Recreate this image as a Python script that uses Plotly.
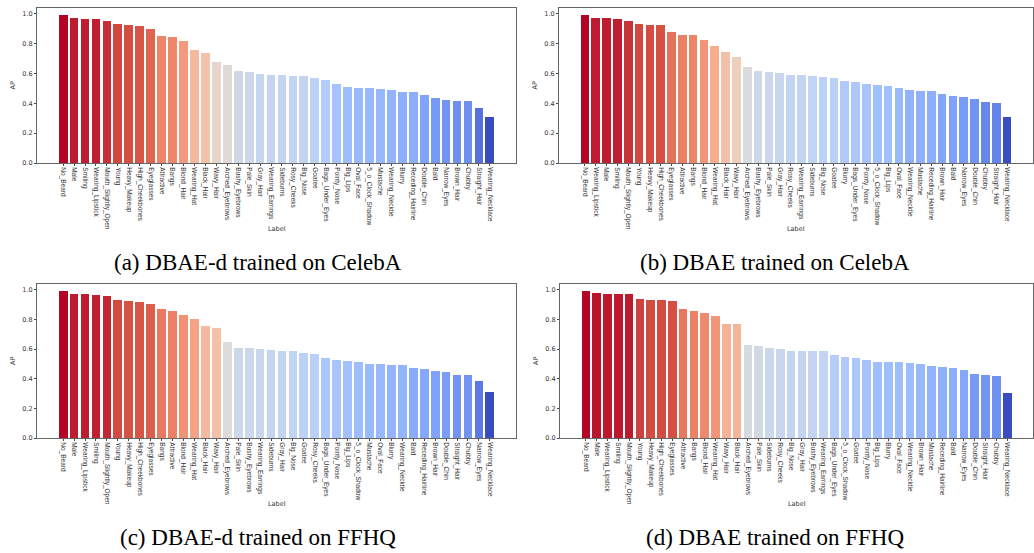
import plotly.graph_objects as go

# ---------------- data ----------------
labels_a = ["No_Beard", "Male", "Smiling", "Wearing_Lipstick", "Mouth_Slightly_Open", "Young", "Heavy_Makeup",
            "High_Cheekbones", "Eyeglasses", "Attractive", "Bangs", "Blond_Hair", "Wearing_Hat", "Black_Hair",
            "Wavy_Hair", "Arched_Eyebrows", "Bushy_Eyebrows", "Pale_Skin", "Gray_Hair", "Wearing_Earrings",
            "Sideburns", "Rosy_Cheeks", "Big_Nose", "Goatee", "Bags_Under_Eyes", "Pointy_Nose", "Big_Lips",
            "Oval_Face", "5_o_Clock_Shadow", "Mustache", "Wearing_Necktie", "Blurry", "Receding_Hairline",
            "Double_Chin", "Bald", "Narrow_Eyes", "Brown_Hair", "Chubby", "Straight_Hair", "Wearing_Necklace"]
values_a = [0.991, 0.971, 0.969, 0.968, 0.953, 0.931, 0.926, 0.919, 0.897, 0.852, 0.848, 0.817, 0.756, 0.740,
            0.676, 0.658, 0.617, 0.611, 0.597, 0.591, 0.588, 0.586, 0.582, 0.570, 0.555, 0.528, 0.510,
            0.503, 0.501, 0.499, 0.490, 0.479, 0.477, 0.454, 0.434, 0.425, 0.418, 0.416, 0.367, 0.306]

labels_b = ["No_Beard", "Wearing_Lipstick", "Male", "Smiling", "Mouth_Slightly_Open", "Young", "Heavy_Makeup",
            "High_Cheekbones", "Eyeglasses", "Attractive", "Bangs", "Blond_Hair", "Wearing_Hat", "Black_Hair",
            "Wavy_Hair", "Arched_Eyebrows", "Bushy_Eyebrows", "Pale_Skin", "Gray_Hair", "Rosy_Cheeks",
            "Wearing_Earrings", "Sideburns", "Big_Nose", "Goatee", "Blurry", "Bags_Under_Eyes", "Pointy_Nose",
            "5_o_Clock_Shadow", "Big_Lips", "Oval_Face", "Wearing_Necktie", "Mustache", "Receding_Hairline",
            "Brown_Hair", "Bald", "Narrow_Eyes", "Double_Chin", "Chubby", "Straight_Hair", "Wearing_Necklace"]
values_b = [0.991, 0.971, 0.970, 0.968, 0.951, 0.931, 0.928, 0.924, 0.881, 0.861, 0.857, 0.828, 0.785, 0.745,
            0.709, 0.644, 0.617, 0.611, 0.604, 0.591, 0.588, 0.584, 0.575, 0.570, 0.550, 0.546, 0.532,
            0.521, 0.517, 0.503, 0.490, 0.485, 0.483, 0.463, 0.452, 0.441, 0.427, 0.407, 0.400, 0.311]

labels_c = ["No_Beard", "Male", "Wearing_Lipstick", "Smiling", "Mouth_Slightly_Open", "Young", "Heavy_Makeup",
            "High_Cheekbones", "Eyeglasses", "Bangs", "Attractive", "Blond_Hair", "Wearing_Hat", "Black_Hair",
            "Wavy_Hair", "Arched_Eyebrows", "Pale_Skin", "Bushy_Eyebrows", "Wearing_Earrings", "Sideburns",
            "Gray_Hair", "Big_Nose", "Goatee", "Rosy_Cheeks", "Bags_Under_Eyes", "Pointy_Nose", "Big_Lips",
            "5_o_Clock_Shadow", "Mustache", "Oval_Face", "Blurry", "Wearing_Necktie", "Bald", "Receding_Hairline",
            "Brown_Hair", "Double_Chin", "Straight_Hair", "Chubby", "Narrow_Eyes", "Wearing_Necklace"]
values_c = [0.991, 0.971, 0.970, 0.966, 0.960, 0.930, 0.924, 0.917, 0.906, 0.870, 0.858, 0.831, 0.802, 0.757,
            0.742, 0.647, 0.611, 0.609, 0.602, 0.591, 0.589, 0.587, 0.573, 0.569, 0.542, 0.530, 0.521,
            0.510, 0.503, 0.501, 0.494, 0.492, 0.472, 0.465, 0.454, 0.443, 0.427, 0.425, 0.382, 0.308]

labels_d = ["No_Beard", "Male", "Wearing_Lipstick", "Smiling", "Mouth_Slightly_Open", "Young", "Heavy_Makeup",
            "High_Cheekbones", "Eyeglasses", "Attractive", "Bangs", "Blond_Hair", "Wearing_Hat", "Wavy_Hair",
            "Black_Hair", "Arched_Eyebrows", "Pale_Skin", "Sideburns", "Rosy_Cheeks", "Big_Nose", "Gray_Hair",
            "Bushy_Eyebrows", "Wearing_Earrings", "Bags_Under_Eyes", "5_o_Clock_Shadow", "Goatee", "Pointy_Nose",
            "Big_Lips", "Blurry", "Oval_Face", "Wearing_Necktie", "Brown_Hair", "Mustache", "Receding_Hairline",
            "Bald", "Narrow_Eyes", "Double_Chin", "Straight_Hair", "Chubby", "Wearing_Necklace"]
values_d = [0.993, 0.980, 0.975, 0.975, 0.974, 0.939, 0.930, 0.930, 0.926, 0.874, 0.860, 0.847, 0.827, 0.773,
            0.770, 0.631, 0.624, 0.608, 0.599, 0.590, 0.590, 0.588, 0.588, 0.559, 0.550, 0.541, 0.529,
            0.516, 0.514, 0.511, 0.507, 0.502, 0.486, 0.482, 0.475, 0.462, 0.435, 0.426, 0.419, 0.306]

captions = ["(a) DBAE-d trained on CelebA", "(b) DBAE trained on CelebA",
            "(c) DBAE-d trained on FFHQ", "(d) DBAE trained on FFHQ"]
y_ticks = [0.0, 0.2, 0.4, 0.6, 0.8, 1.0]

# matplotlib "coolwarm"
coolwarm = [[0.0, "#3b4cc0"], [0.1, "#5977e3"], [0.2, "#7b9ff9"], [0.3, "#9ebeff"], [0.4, "#c0d4f5"],
            [0.5, "#dddcdc"], [0.6, "#f2cbb7"], [0.7, "#f7ac8e"], [0.8, "#ee8468"], [0.9, "#d65244"],
            [1.0, "#b40426"]]

W, H = 1034, 553
panels = [
    (labels_a, values_a, (37, 516), (8, 163), 258),
    (labels_b, values_b, (559, 1033), (8, 163), 775),
    (labels_c, values_c, (37, 516), (284, 438), 258),
    (labels_d, values_d, (560, 1033), (284, 438), 775),
]

fig = go.Figure()
tick_font = dict(family="Liberation Sans, Arial, sans-serif", size=6.5, color="#333")
small_font = dict(family="DejaVu Sans, sans-serif", size=6.5, color="#333")
for i, (labs, vals, (x0, x1), (yt, yb), capx) in enumerate(panels):
    n = i + 1
    xa = "x" if n == 1 else f"x{n}"
    ya = "y" if n == 1 else f"y{n}"
    fig.add_trace(go.Bar(
        x=list(range(len(labs))), y=vals, width=0.8, xaxis=xa, yaxis=ya,
        marker=dict(color=vals, colorscale=coolwarm, cmin=min(vals), cmax=max(vals),
                    line=dict(width=0)),
        showlegend=False, hovertext=labs,
    ))
    nb = len(labs)
    margin = 0.05 * (nb - 1 + 0.8)
    xkey = "xaxis" if n == 1 else f"xaxis{n}"
    ykey = "yaxis" if n == 1 else f"yaxis{n}"
    fig.layout[xkey] = dict(
        domain=[x0 / W, x1 / W], anchor=ya, range=[-0.4 - margin, nb - 1 + 0.4 + margin],
        tickmode="array", tickvals=list(range(nb)), ticktext=labs, tickangle=90,
        tickfont=tick_font, ticks="outside", ticklen=2, tickcolor="#444", automargin=False,
        showline=True, linecolor="#666", linewidth=1, mirror=True, showgrid=False, zeroline=False,
    )
    fig.layout[ykey] = dict(
        domain=[1 - yb / H, 1 - yt / H], anchor=xa, range=[0, 1.04],
        tickmode="array", tickvals=y_ticks, ticktext=[f"{t:.1f}" for t in y_ticks],
        tickfont=small_font, automargin=False,
        ticks="outside", ticklen=2, tickcolor="#444",
        showline=True, linecolor="#666", linewidth=1, mirror=True, showgrid=False, zeroline=False,
    )
    cx = (x0 + x1) / 2
    # axis titles
    fig.add_annotation(x=cx / W, y=1 - (yb + 66) / H, xref="paper", yref="paper", text="Label",
                       xanchor="center", yanchor="middle", showarrow=False, font=small_font)
    fig.add_annotation(x=(x0 - 24) / W, y=1 - ((yt + yb) / 2) / H, xref="paper", yref="paper", text="AP",
                       xanchor="center", yanchor="middle", textangle=-90, showarrow=False, font=small_font)
    # caption
    fig.add_annotation(x=capx / W, y=1 - (yb + 99) / H, xref="paper", yref="paper",
                       text=captions[i], showarrow=False, xanchor="center", yanchor="middle",
                       font=dict(family="Liberation Serif, Times New Roman, serif", size=23, color="#000"))

fig.update_layout(width=W, height=H, margin=dict(l=0, r=0, t=0, b=0),
                  paper_bgcolor="white", plot_bgcolor="white", bargap=0)
fig.write_html("out.html", config={"displayModeBar": False},
               post_script="document.body.style.margin='0';")
